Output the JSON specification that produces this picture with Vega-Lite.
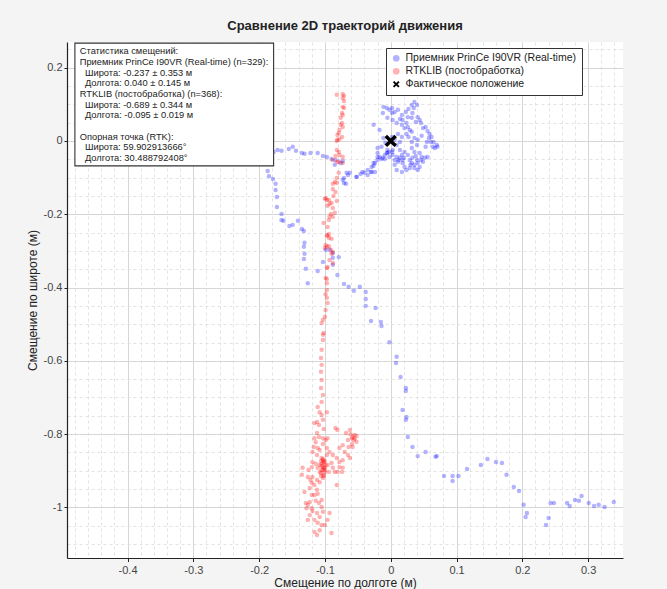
{
"$schema":"https://vega.github.io/schema/vega-lite/v6.json",
"autosize":{"type":"none"},
"width":556,"height":516,
"padding":{"left":67,"top":42,"right":44,"bottom":31},
"background":"#f4f4f4",
"config":{"font":"Liberation Sans","view":{"stroke":null,"fill":"white"}},
"title":{"text":"Сравнение 2D траекторий движения","fontSize":13,"fontWeight":"bold","color":"#222","anchor":"middle","offset":9},
"datasets":{"pts":[
{"s":"p","x":-0.202,"y":-0.025},{"s":"p","x":-0.195,"y":-0.025},{"s":"p","x":-0.178,"y":-0.030},{"s":"p","x":-0.172,"y":-0.025},{"s":"p","x":-0.166,"y":-0.027},{"s":"p","x":-0.155,"y":-0.022},{"s":"p","x":-0.149,"y":-0.016},{"s":"p","x":-0.144,"y":-0.027},{"s":"p","x":-0.135,"y":-0.033},{"s":"p","x":-0.131,"y":-0.035},{"s":"p","x":-0.122,"y":-0.033},{"s":"p","x":-0.111,"y":-0.033},{"s":"p","x":-0.103,"y":-0.041},{"s":"p","x":-0.097,"y":-0.044},{"s":"p","x":-0.090,"y":-0.049},{"s":"p","x":-0.085,"y":-0.065},{"s":"p","x":-0.076,"y":-0.060},{"s":"p","x":-0.084,"y":-0.052},
{"s":"p","x":-0.187,"y":-0.082},{"s":"p","x":-0.185,"y":-0.096},{"s":"p","x":-0.179,"y":-0.104},{"s":"p","x":-0.175,"y":-0.117},{"s":"p","x":-0.175,"y":-0.134},{"s":"p","x":-0.173,"y":-0.153},{"s":"p","x":-0.173,"y":-0.180},{"s":"p","x":-0.166,"y":-0.199},{"s":"p","x":-0.166,"y":-0.216},{"s":"p","x":-0.163,"y":-0.218},{"s":"p","x":-0.154,"y":-0.232},{"s":"p","x":-0.149,"y":-0.229},{"s":"p","x":-0.141,"y":-0.218},{"s":"p","x":-0.135,"y":-0.240},{"s":"p","x":-0.132,"y":-0.246},{"s":"p","x":-0.131,"y":-0.278},{"s":"p","x":-0.132,"y":-0.289},{"s":"p","x":-0.131,"y":-0.308},{"s":"p","x":-0.132,"y":-0.322},{"s":"p","x":-0.129,"y":-0.349},{"s":"p","x":-0.126,"y":-0.388},{"s":"p","x":-0.111,"y":-0.355},{"s":"p","x":-0.103,"y":-0.330},{"s":"p","x":-0.099,"y":-0.297},{"s":"p","x":-0.093,"y":-0.297},{"s":"p","x":-0.088,"y":-0.306},{"s":"p","x":-0.088,"y":-0.319},{"s":"p","x":-0.088,"y":-0.338},{"s":"p","x":-0.079,"y":-0.317},{"s":"p","x":-0.081,"y":-0.366},{"s":"p","x":-0.071,"y":-0.390},{"s":"p","x":-0.064,"y":-0.398},{"s":"p","x":-0.056,"y":-0.409},{"s":"p","x":-0.047,"y":-0.398},{"s":"p","x":-0.038,"y":-0.412},{"s":"p","x":-0.038,"y":-0.431},{"s":"p","x":-0.038,"y":-0.450},{"s":"p","x":-0.023,"y":-0.456},{"s":"p","x":-0.030,"y":-0.491},{"s":"p","x":-0.015,"y":-0.494},{"s":"p","x":-0.014,"y":-0.505},{"s":"p","x":-0.002,"y":-0.549},{"s":"p","x":0.009,"y":-0.589},{"s":"p","x":0.008,"y":-0.606},{"s":"p","x":0.015,"y":-0.644},{"s":"p","x":0.023,"y":-0.674},{"s":"p","x":0.023,"y":-0.682},{"s":"p","x":0.018,"y":-0.734},{"s":"p","x":0.024,"y":-0.753},{"s":"p","x":0.023,"y":-0.761},{"s":"p","x":0.026,"y":-0.808},{"s":"p","x":0.033,"y":-0.835},{"s":"p","x":0.041,"y":-0.860},{"s":"p","x":0.053,"y":-0.849},{"s":"p","x":0.068,"y":-0.862},{"s":"p","x":0.070,"y":-0.860},{"s":"p","x":0.081,"y":-0.914},{"s":"p","x":0.094,"y":-0.914},{"s":"p","x":0.094,"y":-0.928},{"s":"p","x":0.103,"y":-0.914},{"s":"p","x":0.116,"y":-0.895},{"s":"p","x":0.137,"y":-0.884},{"s":"p","x":0.147,"y":-0.868},{"s":"p","x":0.160,"y":-0.876},{"s":"p","x":0.169,"y":-0.879},{"s":"p","x":0.176,"y":-0.911},{"s":"p","x":0.187,"y":-0.944},{"s":"p","x":0.195,"y":-0.955},{"s":"p","x":0.202,"y":-0.993},{"s":"p","x":0.207,"y":-1.015},{"s":"p","x":0.205,"y":-1.026},{"s":"p","x":0.236,"y":-1.048},{"s":"p","x":0.240,"y":-1.029},{"s":"p","x":0.243,"y":-0.988},{"s":"p","x":0.248,"y":-0.988},{"s":"p","x":0.268,"y":-0.988},{"s":"p","x":0.272,"y":-0.996},{"s":"p","x":0.280,"y":-0.980},{"s":"p","x":0.286,"y":-0.982},{"s":"p","x":0.290,"y":-0.969},{"s":"p","x":0.301,"y":-0.988},{"s":"p","x":0.309,"y":-0.996},{"s":"p","x":0.316,"y":-0.993},{"s":"p","x":0.325,"y":-0.999},{"s":"p","x":0.339,"y":-0.985},
{"s":"p","x":-0.067,"y":-0.087},{"s":"p","x":-0.062,"y":-0.087},{"s":"p","x":-0.071,"y":-0.101},{"s":"p","x":-0.068,"y":-0.117},{"s":"p","x":-0.052,"y":-0.098},{"s":"p","x":-0.043,"y":-0.085},{"s":"p","x":-0.035,"y":-0.079},{"s":"p","x":-0.029,"y":-0.085},{"s":"p","x":-0.024,"y":-0.085},{"s":"p","x":-0.026,"y":-0.068},{"s":"p","x":-0.026,"y":-0.060},{"s":"p","x":-0.020,"y":-0.044},{"s":"p","x":-0.014,"y":-0.049},{"s":"p","x":-0.009,"y":-0.049},{"s":"p","x":-0.006,"y":-0.033},{"s":"p","x":-0.003,"y":-0.030},{"s":"p","x":-0.073,"y":-0.055},{"s":"p","x":-0.073,"y":-0.106},{"s":"p","x":-0.071,"y":-0.115},{"s":"p","x":-0.065,"y":-0.093},
{"s":"p","x":-0.011,"y":0.093},{"s":"p","x":-0.006,"y":0.090},{"s":"p","x":-0.002,"y":0.085},{"s":"p","x":0.002,"y":0.090},{"s":"p","x":0.006,"y":0.079},{"s":"p","x":0.002,"y":0.076},{"s":"p","x":0.011,"y":0.085},{"s":"p","x":0.017,"y":0.071},{"s":"p","x":0.014,"y":0.060},{"s":"p","x":0.018,"y":0.057},{"s":"p","x":0.024,"y":0.049},{"s":"p","x":0.026,"y":0.038},{"s":"p","x":0.029,"y":0.030},{"s":"p","x":0.032,"y":0.025},{"s":"p","x":0.036,"y":0.106},{"s":"p","x":0.040,"y":0.098},{"s":"p","x":0.035,"y":0.090},{"s":"p","x":0.033,"y":0.076},{"s":"p","x":0.041,"y":0.065},{"s":"p","x":0.044,"y":0.057},{"s":"p","x":0.046,"y":0.049},{"s":"p","x":0.049,"y":0.035},{"s":"p","x":0.053,"y":0.038},{"s":"p","x":0.056,"y":0.027},{"s":"p","x":0.059,"y":0.019},{"s":"p","x":0.062,"y":0.011},{"s":"p","x":0.058,"y":0.008},{"s":"p","x":0.065,"y":-0.003},{"s":"p","x":0.070,"y":-0.011},{"s":"p","x":0.071,"y":-0.016},{"s":"p","x":0.064,"y":-0.016},{"s":"p","x":0.067,"y":-0.019},{"s":"p","x":0.055,"y":-0.003},{"s":"p","x":0.047,"y":0.014},{"s":"p","x":0.041,"y":0.003},{"s":"p","x":0.036,"y":0.008},{"s":"p","x":0.032,"y":-0.003},{"s":"p","x":0.027,"y":0.011},{"s":"p","x":0.024,"y":0.019},{"s":"p","x":0.040,"y":-0.011},{"s":"p","x":0.032,"y":-0.019},{"s":"p","x":0.036,"y":-0.030},{"s":"p","x":0.044,"y":-0.033},{"s":"p","x":0.047,"y":-0.044},{"s":"p","x":0.052,"y":-0.046},{"s":"p","x":0.056,"y":-0.044},{"s":"p","x":0.049,"y":-0.057},{"s":"p","x":0.041,"y":-0.060},{"s":"p","x":0.036,"y":-0.065},{"s":"p","x":0.032,"y":-0.060},{"s":"p","x":0.029,"y":-0.052},{"s":"p","x":0.033,"y":-0.046},{"s":"p","x":0.040,"y":-0.052},{"s":"p","x":0.026,"y":-0.038},{"s":"p","x":0.021,"y":-0.030},{"s":"p","x":0.017,"y":-0.038},{"s":"p","x":0.014,"y":-0.046},{"s":"p","x":0.009,"y":-0.044},{"s":"p","x":0.003,"y":-0.038},{"s":"p","x":0.002,"y":-0.030},{"s":"p","x":-0.005,"y":-0.025},{"s":"p","x":-0.005,"y":-0.033},{"s":"p","x":-0.002,"y":-0.044},{"s":"p","x":0.006,"y":-0.052},{"s":"p","x":0.011,"y":-0.057},{"s":"p","x":0.018,"y":-0.060},{"s":"p","x":0.021,"y":-0.071},{"s":"p","x":0.029,"y":-0.074},{"s":"p","x":0.036,"y":-0.074},{"s":"p","x":0.044,"y":-0.071},{"s":"p","x":-0.009,"y":-0.038},{"s":"p","x":-0.012,"y":-0.046},{"s":"p","x":-0.017,"y":-0.044},{"s":"p","x":-0.020,"y":-0.052},{"s":"p","x":-0.024,"y":-0.060},{"s":"p","x":-0.029,"y":-0.071},{"s":"p","x":-0.030,"y":-0.085},{"s":"p","x":-0.035,"y":-0.093},{"s":"p","x":-0.040,"y":-0.087},{"s":"p","x":-0.046,"y":-0.090},{"s":"p","x":-0.052,"y":-0.098},{"s":"p","x":0.017,"y":-0.085},{"s":"p","x":0.009,"y":-0.079},{"s":"p","x":0.006,"y":-0.065},{"s":"p","x":0.024,"y":-0.079},{"s":"p","x":0.041,"y":-0.079},{"s":"p","x":0.018,"y":-0.052},{"s":"p","x":0.014,"y":-0.025},{"s":"p","x":0.009,"y":-0.011},{"s":"p","x":0.014,"y":-0.003},{"s":"p","x":0.006,"y":0.003},{"s":"p","x":0.002,"y":0.011},{"s":"p","x":0.011,"y":0.019},{"s":"p","x":0.017,"y":0.011},{"s":"p","x":0.021,"y":0.035},{"s":"p","x":0.017,"y":0.044},{"s":"p","x":0.009,"y":0.049},{"s":"p","x":0.003,"y":0.057},{"s":"p","x":-0.005,"y":0.063},{"s":"p","x":0.026,"y":0.065},{"s":"p","x":0.032,"y":0.063},{"s":"p","x":0.038,"y":0.052},{"s":"p","x":0.023,"y":0.079},{"s":"p","x":0.027,"y":0.087},{"s":"p","x":0.032,"y":0.098},{"s":"p","x":-0.011,"y":0.008},{"s":"p","x":-0.008,"y":-0.005},{"s":"p","x":-0.014,"y":-0.016},{"s":"p","x":-0.020,"y":-0.019},{"s":"p","x":-0.020,"y":-0.033},{"s":"p","x":0.012,"y":-0.052},{"s":"p","x":0.030,"y":-0.065},{"s":"p","x":0.046,"y":-0.052},{"s":"p","x":0.038,"y":-0.041},{"s":"p","x":0.020,"y":-0.046},{"s":"p","x":0.003,"y":-0.025},{"s":"p","x":0.053,"y":-0.016},{"s":"p","x":0.061,"y":-0.003},{"s":"p","x":-0.017,"y":0.030},{"s":"p","x":-0.012,"y":0.076},{"s":"p","x":-0.026,"y":0.044},
{"s":"r","x":-0.073,"y":0.128},{"s":"r","x":-0.071,"y":0.123},{"s":"r","x":-0.082,"y":0.126},{"s":"r","x":-0.073,"y":0.117},{"s":"r","x":-0.071,"y":0.109},{"s":"r","x":-0.073,"y":0.093},{"s":"r","x":-0.071,"y":0.090},{"s":"r","x":-0.074,"y":0.076},{"s":"r","x":-0.073,"y":0.071},{"s":"r","x":-0.076,"y":0.063},{"s":"r","x":-0.074,"y":0.049},{"s":"r","x":-0.076,"y":0.044},{"s":"r","x":-0.073,"y":0.038},{"s":"r","x":-0.078,"y":0.030},{"s":"r","x":-0.079,"y":0.022},{"s":"r","x":-0.081,"y":0.016},{"s":"r","x":-0.074,"y":0.011},{"s":"r","x":-0.078,"y":0.005},{"s":"r","x":-0.082,"y":0.0},{"s":"r","x":-0.081,"y":0.003},{"s":"r","x":-0.082,"y":-0.025},{"s":"r","x":-0.079,"y":-0.030},{"s":"r","x":-0.084,"y":-0.041},{"s":"r","x":-0.088,"y":-0.052},{"s":"r","x":-0.081,"y":-0.057},{"s":"r","x":-0.078,"y":-0.038},{"s":"r","x":-0.073,"y":-0.044},{"s":"r","x":-0.079,"y":-0.057},{"s":"r","x":-0.073,"y":-0.060},{"s":"r","x":-0.079,"y":-0.087},{"s":"r","x":-0.082,"y":-0.101},{"s":"r","x":-0.085,"y":-0.112},{"s":"r","x":-0.088,"y":-0.117},{"s":"r","x":-0.088,"y":-0.131},{"s":"r","x":-0.084,"y":-0.139},{"s":"r","x":-0.087,"y":-0.150},{"s":"r","x":-0.099,"y":-0.156},{"s":"r","x":-0.100,"y":-0.158},{"s":"r","x":-0.094,"y":-0.161},{"s":"r","x":-0.090,"y":-0.169},{"s":"r","x":-0.096,"y":-0.177},{"s":"r","x":-0.088,"y":-0.183},{"s":"r","x":-0.091,"y":-0.199},{"s":"r","x":-0.088,"y":-0.207},{"s":"r","x":-0.094,"y":-0.216},{"s":"r","x":-0.102,"y":-0.224},{"s":"r","x":-0.096,"y":-0.235},{"s":"r","x":-0.094,"y":-0.254},{"s":"r","x":-0.096,"y":-0.259},{"s":"r","x":-0.094,"y":-0.265},{"s":"r","x":-0.099,"y":-0.284},{"s":"r","x":-0.097,"y":-0.289},{"s":"r","x":-0.100,"y":-0.292},{"s":"r","x":-0.094,"y":-0.287},{"s":"r","x":-0.091,"y":-0.297},{"s":"r","x":-0.088,"y":-0.303},{"s":"r","x":-0.093,"y":-0.325},{"s":"r","x":-0.088,"y":-0.333},{"s":"r","x":-0.097,"y":-0.347},{"s":"r","x":-0.099,"y":-0.374},{"s":"r","x":-0.082,"y":-0.164},{"s":"r","x":-0.082,"y":-0.115},{"s":"r","x":-0.097,"y":-0.161},{"s":"r","x":-0.093,"y":-0.172},{"s":"r","x":-0.085,"y":-0.196},{"s":"r","x":-0.093,"y":-0.207},{"s":"r","x":-0.097,"y":-0.257},{"s":"r","x":-0.090,"y":-0.267},{"s":"r","x":-0.090,"y":-0.308},{"s":"r","x":-0.096,"y":-0.344},{"s":"r","x":-0.097,"y":-0.377},{"s":"r","x":-0.097,"y":-0.388},{"s":"r","x":-0.097,"y":-0.407},{"s":"r","x":-0.099,"y":-0.418},{"s":"r","x":-0.097,"y":-0.428},{"s":"r","x":-0.096,"y":-0.442},{"s":"r","x":-0.099,"y":-0.461},{"s":"r","x":-0.100,"y":-0.480},{"s":"r","x":-0.103,"y":-0.488},{"s":"r","x":-0.105,"y":-0.497},{"s":"r","x":-0.102,"y":-0.524},{"s":"r","x":-0.103,"y":-0.529},{"s":"r","x":-0.103,"y":-0.543},{"s":"r","x":-0.105,"y":-0.570},{"s":"r","x":-0.106,"y":-0.592},{"s":"r","x":-0.105,"y":-0.611},{"s":"r","x":-0.106,"y":-0.630},{"s":"r","x":-0.105,"y":-0.652},{"s":"r","x":-0.106,"y":-0.674},{"s":"r","x":-0.103,"y":-0.693},{"s":"r","x":-0.105,"y":-0.712},{"s":"r","x":-0.111,"y":-0.726},
{"s":"r","x":-0.108,"y":-0.740},{"s":"r","x":-0.105,"y":-0.748},{"s":"r","x":-0.103,"y":-0.761},{"s":"r","x":-0.112,"y":-0.767},{"s":"r","x":-0.116,"y":-0.770},{"s":"r","x":-0.102,"y":-0.786},{"s":"r","x":-0.084,"y":-0.783},{"s":"r","x":-0.081,"y":-0.789},{"s":"r","x":-0.112,"y":-0.797},{"s":"r","x":-0.109,"y":-0.808},{"s":"r","x":-0.116,"y":-0.811},{"s":"r","x":-0.103,"y":-0.811},{"s":"r","x":-0.096,"y":-0.811},{"s":"r","x":-0.062,"y":-0.789},{"s":"r","x":-0.058,"y":-0.808},{"s":"r","x":-0.059,"y":-0.811},{"s":"r","x":-0.055,"y":-0.811},{"s":"r","x":-0.065,"y":-0.816},{"s":"r","x":-0.052,"y":-0.821},{"s":"r","x":-0.059,"y":-0.827},{"s":"r","x":-0.064,"y":-0.835},{"s":"r","x":-0.058,"y":-0.835},{"s":"r","x":-0.073,"y":-0.830},{"s":"r","x":-0.078,"y":-0.838},{"s":"r","x":-0.070,"y":-0.849},{"s":"r","x":-0.065,"y":-0.857},{"s":"r","x":-0.062,"y":-0.865},{"s":"r","x":-0.073,"y":-0.871},{"s":"r","x":-0.078,"y":-0.876},{"s":"r","x":-0.082,"y":-0.865},{"s":"r","x":-0.088,"y":-0.857},{"s":"r","x":-0.093,"y":-0.849},{"s":"r","x":-0.097,"y":-0.838},{"s":"r","x":-0.103,"y":-0.827},{"s":"r","x":-0.111,"y":-0.838},{"s":"r","x":-0.117,"y":-0.835},{"s":"r","x":-0.119,"y":-0.849},{"s":"r","x":-0.112,"y":-0.857},{"s":"r","x":-0.105,"y":-0.865},{"s":"r","x":-0.103,"y":-0.871},{"s":"r","x":-0.102,"y":-0.876},{"s":"r","x":-0.105,"y":-0.881},{"s":"r","x":-0.103,"y":-0.890},{"s":"r","x":-0.100,"y":-0.892},{"s":"r","x":-0.103,"y":-0.898},{"s":"r","x":-0.100,"y":-0.903},{"s":"r","x":-0.102,"y":-0.911},{"s":"r","x":-0.103,"y":-0.920},{"s":"r","x":-0.108,"y":-0.903},{"s":"r","x":-0.111,"y":-0.892},{"s":"r","x":-0.114,"y":-0.881},{"s":"r","x":-0.119,"y":-0.876},{"s":"r","x":-0.120,"y":-0.890},{"s":"r","x":-0.125,"y":-0.898},{"s":"r","x":-0.134,"y":-0.892},{"s":"r","x":-0.135,"y":-0.911},{"s":"r","x":-0.126,"y":-0.917},{"s":"r","x":-0.119,"y":-0.917},{"s":"r","x":-0.112,"y":-0.925},{"s":"r","x":-0.108,"y":-0.931},{"s":"r","x":-0.088,"y":-0.892},{"s":"r","x":-0.085,"y":-0.903},{"s":"r","x":-0.081,"y":-0.903},{"s":"r","x":-0.074,"y":-0.903},{"s":"r","x":-0.073,"y":-0.892},{"s":"r","x":-0.078,"y":-0.890},{"s":"r","x":-0.090,"y":-0.879},{"s":"r","x":-0.096,"y":-0.884},{"s":"r","x":-0.094,"y":-0.903},{"s":"r","x":-0.082,"y":-0.939},{"s":"r","x":-0.116,"y":-0.939},{"s":"r","x":-0.120,"y":-0.933},{"s":"r","x":-0.123,"y":-0.947},{"s":"r","x":-0.112,"y":-0.952},{"s":"r","x":-0.116,"y":-0.966},{"s":"r","x":-0.111,"y":-0.963},{"s":"r","x":-0.105,"y":-0.980},{"s":"r","x":-0.109,"y":-0.988},{"s":"r","x":-0.123,"y":-0.985},{"s":"r","x":-0.126,"y":-0.993},{"s":"r","x":-0.128,"y":-1.002},{"s":"r","x":-0.120,"y":-1.002},{"s":"r","x":-0.119,"y":-1.010},{"s":"r","x":-0.112,"y":-1.015},{"s":"r","x":-0.105,"y":-0.999},{"s":"r","x":-0.103,"y":-1.012},{"s":"r","x":-0.108,"y":-1.026},{"s":"r","x":-0.116,"y":-1.034},{"s":"r","x":-0.111,"y":-1.042},{"s":"r","x":-0.105,"y":-1.048},{"s":"r","x":-0.093,"y":-1.015},{"s":"r","x":-0.096,"y":-1.034},{"s":"r","x":-0.100,"y":-1.048},{"s":"r","x":-0.090,"y":-1.070},{"s":"r","x":-0.116,"y":-1.067},{"s":"r","x":-0.108,"y":-1.062},{"s":"r","x":-0.112,"y":-1.075},{"s":"r","x":-0.126,"y":-1.034},{"s":"r","x":-0.129,"y":-0.988},{"s":"r","x":-0.122,"y":-0.925},{"s":"r","x":-0.131,"y":-0.958},
{"s":"r","x":-0.106,"y":-0.873},{"s":"r","x":-0.102,"y":-0.879},{"s":"r","x":-0.105,"y":-0.887},{"s":"r","x":-0.100,"y":-0.898},{"s":"r","x":-0.106,"y":-0.906},{"s":"r","x":-0.102,"y":-0.914},{"s":"r","x":-0.103,"y":-0.868},{"s":"r","x":-0.099,"y":-0.884},{"s":"r","x":-0.055,"y":-0.802},{"s":"r","x":-0.061,"y":-0.800},{"s":"r","x":-0.056,"y":-0.816},{"s":"r","x":-0.108,"y":-0.884},{"s":"r","x":-0.105,"y":-0.898},{"s":"r","x":-0.102,"y":-0.892},{"s":"r","x":-0.106,"y":-0.914},{"s":"r","x":-0.100,"y":-0.873},{"s":"r","x":-0.097,"y":-0.857},{"s":"r","x":-0.108,"y":-0.843},{"s":"r","x":-0.114,"y":-0.822},{"s":"r","x":-0.068,"y":-0.797},{"s":"r","x":-0.052,"y":-0.805},{"s":"r","x":-0.120,"y":-0.966},{"s":"r","x":-0.114,"y":-0.982},{"s":"r","x":-0.123,"y":-1.021},{"s":"r","x":-0.099,"y":-0.816},{"s":"r","x":-0.109,"y":-0.775},{"s":"r","x":-0.097,"y":-0.740}
],
"ref":[{"s":"x","x":0,"y":0}],
"one":[{}]},
"resolve":{"axis":{"x":"independent","y":"independent"}},
"layer":[
{"data":{"name":"pts"},
 "mark":{"type":"point","filled":true,"strokeWidth":0,"size":20,"opacity":1},
 "encoding":{
  "x":{"field":"x","type":"quantitative","scale":{"domain":[-0.492,0.353],"nice":false,"zero":false},
   "axis":{"orient":"bottom","values":[-0.4,-0.3,-0.2,-0.1,0,0.1,0.2,0.3],"labelExpr":"datum.value + ''","title":"Смещение по долготе (м)","grid":true,"gridColor":"#d6d6d6","gridWidth":1,"domainColor":"#222","domainWidth":1.2,"tickColor":"#222","tickSize":3.5,"labelPadding":3,"labelFontSize":11,"labelColor":"#444","titleFontSize":12,"titleColor":"#222","titleFontWeight":"normal","titleY":19,"titleBaseline":"top"}},
  "y":{"field":"y","type":"quantitative","scale":{"domain":[-1.138,0.27],"nice":false,"zero":false},
   "axis":{"orient":"left","values":[-1,-0.8,-0.6,-0.4,-0.2,0,0.2],"labelExpr":"datum.value + ''","title":"Смещение по широте (м)","grid":true,"gridColor":"#d6d6d6","gridWidth":1,"domainColor":"#222","domainWidth":1.2,"tickColor":"#222","tickSize":3,"labelPadding":2,"labelFontSize":11,"labelColor":"#444","titleFontSize":12,"titleColor":"#222","titleFontWeight":"normal","titleX":-35,"titleY":258,"titleAngle":-90,"titleBaseline":"middle","titleAlign":"center"}},
  "color":{"field":"s","type":"nominal","scale":{"domain":["p","r","x"],"range":["rgba(0,0,255,0.3)","rgba(255,0,0,0.3)","#000000"]},
   "legend":{"title":null,"orient":"none","legendX":319,"legendY":6,"strokeColor":"#333","fillColor":"white","padding":5,"cornerRadius":0,"labelFontSize":10.5,"labelColor":"#222","labelLimit":400,"rowPadding":2,"symbolSize":45,
    "labelExpr":"datum.value === 'p' ? 'Приемник PrinCe I90VR (Real-time)' : datum.value === 'r' ? 'RTKLIB (постобработка)' : 'Фактическое положение'"}},
  "shape":{"field":"s","type":"nominal","scale":{"domain":["p","r","x"],"range":["circle","circle","M-1,-0.6L-0.6,-1L0,-0.4L0.6,-1L1,-0.6L0.4,0L1,0.6L0.6,1L0,0.4L-0.6,1L-1,0.6L-0.4,0Z"]},
   "legend":{"title":null,"orient":"none","legendX":319,"legendY":6,"strokeColor":"#333","fillColor":"white","padding":5,"cornerRadius":0,"labelFontSize":10.5,"labelColor":"#222","labelLimit":400,"rowPadding":2,"symbolSize":45,
    "labelExpr":"datum.value === 'p' ? 'Приемник PrinCe I90VR (Real-time)' : datum.value === 'r' ? 'RTKLIB (постобработка)' : 'Фактическое положение'"}}
 }},
{"data":{"name":"ref"},
 "mark":{"type":"point","filled":true,"strokeWidth":0,"size":150,"opacity":1},
 "encoding":{
  "x":{"field":"x","type":"quantitative","scale":{"domain":[-0.492,0.353],"nice":false,"zero":false},"axis":null},
  "y":{"field":"y","type":"quantitative","scale":{"domain":[-1.138,0.27],"nice":false,"zero":false},"axis":null},
  "color":{"field":"s","type":"nominal","scale":{"domain":["p","r","x"],"range":["rgba(0,0,255,0.3)","rgba(255,0,0,0.3)","#000000"]}},
  "shape":{"field":"s","type":"nominal","scale":{"domain":["p","r","x"],"range":["circle","circle","M-1,-0.6L-0.6,-1L0,-0.4L0.6,-1L1,-0.6L0.4,0L1,0.6L0.6,1L0,0.4L-0.6,1L-1,0.6L-0.4,0Z"]}}
 }},
{"data":{"name":"one"},
 "mark":{"type":"rect","fill":"white","stroke":"#333","strokeWidth":1.1},
 "encoding":{
  "x":{"datum":-0.48,"type":"quantitative","scale":{"domain":[-0.492,0.353],"nice":false,"zero":false},
   "axis":{"orient":"bottom","values":[-0.48,-0.46,-0.44,-0.42,-0.38,-0.36,-0.34,-0.32,-0.28,-0.26,-0.24,-0.22,-0.18,-0.16,-0.14,-0.12,-0.08,-0.06,-0.04,-0.02,0.02,0.04,0.06,0.08,0.12,0.14,0.16,0.18,0.22,0.24,0.26,0.28,0.32,0.34],"labels":false,"ticks":false,"domain":false,"title":null,"grid":true,"gridDash":[3,3],"gridColor":"#dcdcdc","gridWidth":0.8}},
  "x2":{"datum":-0.178},
  "y":{"datum":0.267,"type":"quantitative","scale":{"domain":[-1.138,0.27],"nice":false,"zero":false},
   "axis":{"orient":"left","values":[-1.1,-1.05,-0.95,-0.9,-0.85,-0.75,-0.7,-0.65,-0.55,-0.5,-0.45,-0.35,-0.3,-0.25,-0.15,-0.1,-0.05,0.05,0.1,0.15,0.25],"labels":false,"ticks":false,"domain":false,"title":null,"grid":true,"gridDash":[3,3],"gridColor":"#dcdcdc","gridWidth":0.8}},
  "y2":{"datum":-0.068}
 }},
{"data":{"name":"one"},
 "mark":{"type":"text","align":"left","baseline":"top","fontSize":9.3,"lineHeight":10.7,"color":"#222",
  "text":["Статистика смещений:","Приемник PrinCe I90VR (Real-time) (n=329):","\u200b\u00a0\u00a0Широта: -0.237 ± 0.353 м","\u200b\u00a0\u00a0Долгота: 0.040 ± 0.145 м","RTKLIB (постобработка) (n=368):","\u200b\u00a0\u00a0Широта: -0.689 ± 0.344 м","\u200b\u00a0\u00a0Долгота: -0.095 ± 0.019 м"]},
 "encoding":{
  "x":{"datum":-0.4726,"type":"quantitative","scale":{"domain":[-0.492,0.353],"nice":false,"zero":false},"axis":null},
  "y":{"datum":0.256,"type":"quantitative","scale":{"domain":[-1.138,0.27],"nice":false,"zero":false},"axis":null}
 }},
{"data":{"name":"one"},
 "mark":{"type":"text","align":"left","baseline":"top","fontSize":9.3,"lineHeight":10.7,"color":"#222",
  "text":["Опорная точка (RTK):","\u200b\u00a0\u00a0Широта: 59.902913666°","\u200b\u00a0\u00a0Долгота: 30.488792408°"]},
 "encoding":{
  "x":{"datum":-0.4726,"type":"quantitative","scale":{"domain":[-0.492,0.353],"nice":false,"zero":false},"axis":null},
  "y":{"datum":0.0224,"type":"quantitative","scale":{"domain":[-1.138,0.27],"nice":false,"zero":false},"axis":null}
 }}
]
}
